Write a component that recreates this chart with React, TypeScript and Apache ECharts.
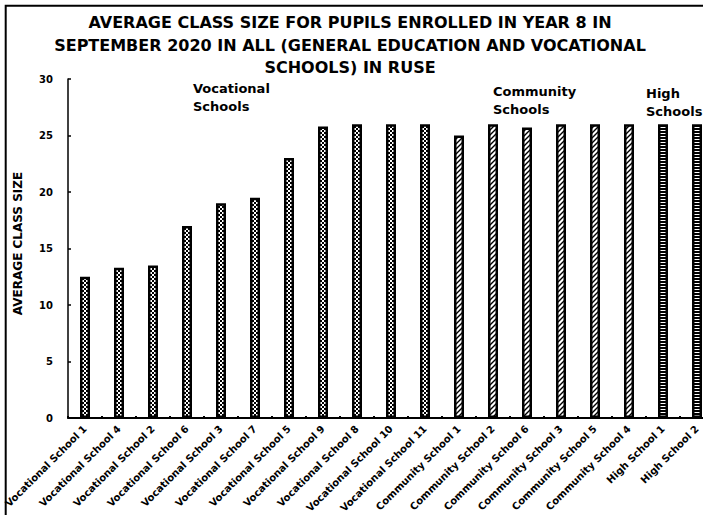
import React, { useEffect, useRef } from "react";
import * as echarts from "echarts";

const categories = [
  "Vocational School 1",
  "Vocational School 4",
  "Vocational School 2",
  "Vocational School 6",
  "Vocational School 3",
  "Vocational School 7",
  "Vocational School 5",
  "Vocational School 9",
  "Vocational School 8",
  "Vocational School 10",
  "Vocational School 11",
  "Community School 1",
  "Community School 2",
  "Community School 6",
  "Community School 3",
  "Community School 5",
  "Community School 4",
  "High School 1",
  "High School 2",
];

const classSizes = [
  12.5, 13.3, 13.5, 17, 19, 19.5, 23, 25.8, 26, 26, 26,
  25, 26, 25.7, 26, 26, 26,
  26, 26,
];

// school type of each category, selects the bar fill pattern
const schoolTypes = [
  "voc", "voc", "voc", "voc", "voc", "voc", "voc", "voc", "voc", "voc", "voc",
  "com", "com", "com", "com", "com", "com",
  "high", "high",
];

const yTicks = { min: 0, max: 30, interval: 5 };

const titleText =
  "AVERAGE CLASS SIZE FOR PUPILS ENROLLED IN YEAR 8 IN\nSEPTEMBER 2020 IN ALL (GENERAL EDUCATION AND VOCATIONAL\nSCHOOLS) IN RUSE";

const FONT = "DejaVu Sans";

function makeTile(w: number, h: number, draw: (ctx: CanvasRenderingContext2D) => void) {
  const c = document.createElement("canvas");
  c.width = w;
  c.height = h;
  const ctx = c.getContext("2d")!;
  draw(ctx);
  return { image: c, repeat: "repeat", imageWidth: w, imageHeight: h };
}

function buildPatterns() {
  const checker = makeTile(4, 4, (ctx) => {
    ctx.fillStyle = "#fff";
    ctx.fillRect(0, 0, 4, 4);
    ctx.fillStyle = "#000";
    ctx.fillRect(0, 0, 2, 2);
    ctx.fillRect(2, 2, 2, 2);
  });
  const hatch = makeTile(5, 5, (ctx) => {
    ctx.fillStyle = "#fff";
    ctx.fillRect(0, 0, 5, 5);
    ctx.strokeStyle = "#000";
    ctx.lineWidth = 1.4;
    ctx.beginPath();
    ctx.moveTo(-1, 6);
    ctx.lineTo(6, -1);
    ctx.moveTo(-1, 1);
    ctx.lineTo(1, -1);
    ctx.moveTo(4, 6);
    ctx.lineTo(6, 4);
    ctx.stroke();
  });
  const stripes = makeTile(3, 3, (ctx) => {
    ctx.fillStyle = "#000";
    ctx.fillRect(0, 0, 3, 3);
    ctx.fillStyle = "#fff";
    ctx.fillRect(0, 1, 3, 1);
  });
  return { voc: checker, com: hatch, high: stripes } as Record<string, any>;
}

export default function App() {
  const ref = useRef<HTMLDivElement>(null);

  useEffect(() => {
    if (!ref.current) return;
    const chart = echarts.init(ref.current, null, { renderer: "svg" });
    const patterns = buildPatterns();

    const groupLabel = (x: number, y: number, text: string) => ({
      type: "text",
      left: x,
      top: y,
      style: {
        text,
        font: `bold 13px "${FONT}"`,
        fill: "#000",
        lineHeight: 18,
      },
    });

    chart.setOption({
      animation: false,
      backgroundColor: "#fff",
      // plot area runs past the right edge of the visible frame
      grid: { left: 68, right: 46, top: 79, bottom: 97, outerBoundsMode: "none" },
      graphic: [
        {
          type: "rect",
          shape: { x: 5.7, y: 5.7, width: 900, height: 700 },
          style: { fill: "none", stroke: "#000", lineWidth: 2 },
          silent: true,
        },
        {
          type: "text",
          x: 350,
          y: 11,
          style: {
            text: titleText,
            font: `bold 16px "${FONT}"`,
            fill: "#000",
            align: "center",
            lineHeight: 22.7,
          },
        },
        groupLabel(193, 79, "Vocational\nSchools"),
        groupLabel(493, 82, "Community\nSchools"),
        groupLabel(646, 84, "High\nSchools"),
      ],
      xAxis: {
        type: "category",
        data: categories,
        boundaryGap: true,
        axisLine: { lineStyle: { color: "#000", width: 2 } },
        axisTick: { show: true, inside: true, length: 2, lineStyle: { color: "#000", width: 2 } },
        axisLabel: {
          rotate: 45,
          interval: 0,
          margin: 9,
          color: "#000",
          fontFamily: FONT,
          fontWeight: "bold",
          fontSize: 10,
        },
      },
      yAxis: {
        type: "value",
        min: yTicks.min,
        max: yTicks.max,
        interval: yTicks.interval,
        name: "AVERAGE CLASS SIZE",
        nameLocation: "middle",
        nameGap: 44,
        nameTextStyle: {
          color: "#000",
          fontFamily: FONT,
          fontWeight: "bold",
          fontSize: 12,
          padding: [0, 0, 0, 10],
        },
        axisLine: { show: true, lineStyle: { color: "#000", width: 1.5 } },
        axisTick: { show: true, inside: true, length: 3, lineStyle: { color: "#000", width: 1.5 } },
        axisLabel: {
          margin: 15,
          color: "#000",
          fontFamily: FONT,
          fontWeight: "bold",
          fontSize: 10,
        },
        splitLine: { show: false },
      },
      series: [
        {
          type: "bar",
          barWidth: 10,
          data: classSizes.map((v, i) => ({
            value: v,
            itemStyle: {
              color: patterns[schoolTypes[i]],
              borderColor: "#000",
              borderWidth: 2.5,
            },
          })),
        },
      ],
    });

    return () => chart.dispose();
  }, []);

  return (
    <div style={{ position: "fixed", left: 0, top: 0, width: 703, height: 515, overflow: "hidden" }}>
      <div ref={ref} style={{ width: 760, height: 515 }} />
    </div>
  );
}
